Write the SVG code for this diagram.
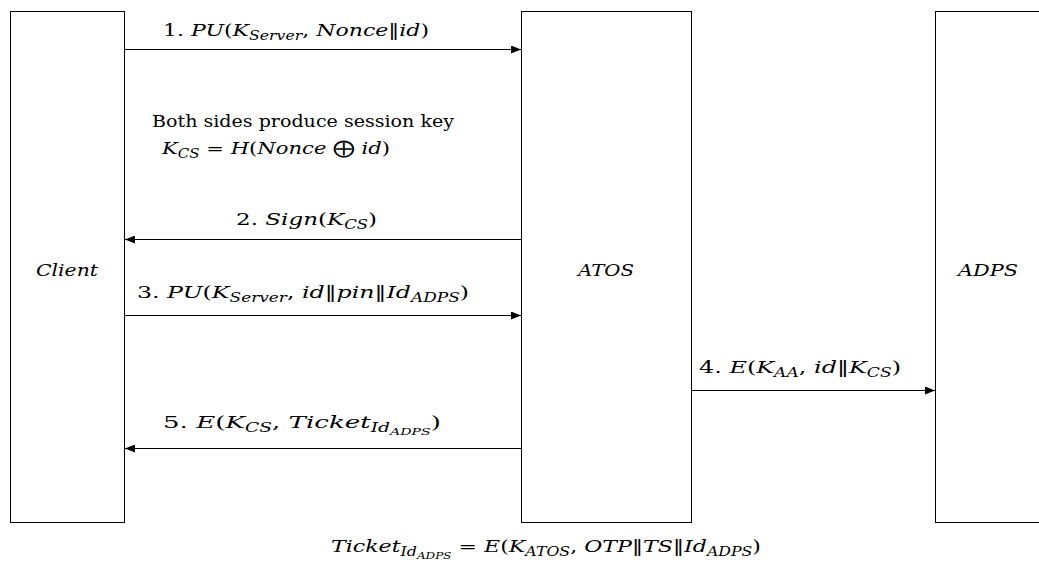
<svg xmlns="http://www.w3.org/2000/svg" width="1039" height="568" viewBox="0 0 1039 568">
  <style>
    .box { fill: #ffffff; stroke: #000000; stroke-width: 1; }
    .msg { stroke: #000000; stroke-width: 1.2; fill: none; }
    text { font-family: "DejaVu Serif", "Liberation Serif", serif; font-size: 17.5px; fill: #000000; }
    .m { font-style: italic; }
    .s { font-style: italic; font-size: 12.5px; }
    .ss { font-style: italic; font-size: 9.5px; }
  </style>
  <defs>
    <marker id="head" viewBox="0 0 10 8" refX="10" refY="4" markerWidth="10" markerHeight="8" markerUnits="userSpaceOnUse" orient="auto">
      <path d="M0,0 L10,4 L0,8 Z" fill="#000000"/>
    </marker>
  </defs>

  <rect width="1039" height="568" fill="#ffffff"/>

  <g id="client">
    <rect class="box" x="10.5" y="11.5" width="114" height="511"/>
    <text class="m" x="67" y="276" text-anchor="middle" textLength="62" lengthAdjust="spacingAndGlyphs">Client</text>
  </g>

  <g id="atos">
    <rect class="box" x="521.5" y="11.5" width="170" height="511"/>
    <text class="m" x="606" y="276" text-anchor="middle" textLength="56" lengthAdjust="spacingAndGlyphs">ATOS</text>
  </g>

  <g id="adps">
    <rect class="box" x="935.5" y="11.5" width="120" height="511"/>
    <text class="m" x="988" y="276" text-anchor="middle" textLength="60" lengthAdjust="spacingAndGlyphs">ADPS</text>
  </g>

  <g id="connectors">
    <line class="msg" x1="125" y1="49.5" x2="521" y2="49.5" marker-end="url(#head)"/>
    <line class="msg" x1="521" y1="239.5" x2="125" y2="239.5" marker-end="url(#head)"/>
    <line class="msg" x1="125" y1="315.5" x2="521" y2="315.5" marker-end="url(#head)"/>
    <line class="msg" x1="692" y1="390.5" x2="935" y2="390.5" marker-end="url(#head)"/>
    <line class="msg" x1="521" y1="448.5" x2="125" y2="448.5" marker-end="url(#head)"/>
  </g>

  <g id="labels">
    <text x="163" y="36" textLength="266" lengthAdjust="spacingAndGlyphs">1. <tspan class="m">PU</tspan>(<tspan class="m">K</tspan><tspan class="s" dy="4">Server</tspan><tspan dy="-4">, </tspan><tspan class="m">Nonce</tspan>‖<tspan class="m">id</tspan>)</text>

    <text x="152" y="127" textLength="302" lengthAdjust="spacingAndGlyphs">Both sides produce session key</text>
    <text x="162" y="154" textLength="228" lengthAdjust="spacingAndGlyphs"><tspan class="m">K</tspan><tspan class="s" dy="4">CS</tspan><tspan dy="-4"> = </tspan><tspan class="m">H</tspan>(<tspan class="m">Nonce</tspan> ⨁ <tspan class="m">id</tspan>)</text>

    <text x="236" y="225" textLength="141" lengthAdjust="spacingAndGlyphs">2. <tspan class="m">Sign</tspan>(<tspan class="m">K</tspan><tspan class="s" dy="4">CS</tspan><tspan dy="-4">)</tspan></text>

    <text x="137" y="298" textLength="332" lengthAdjust="spacingAndGlyphs">3. <tspan class="m">PU</tspan>(<tspan class="m">K</tspan><tspan class="s" dy="4">Server</tspan><tspan dy="-4">, </tspan><tspan class="m">id</tspan>‖<tspan class="m">pin</tspan>‖<tspan class="m">Id</tspan><tspan class="s" dy="4">ADPS</tspan><tspan dy="-4">)</tspan></text>

    <text x="699" y="373" textLength="202" lengthAdjust="spacingAndGlyphs">4. <tspan class="m">E</tspan>(<tspan class="m">K</tspan><tspan class="s" dy="4">AA</tspan><tspan dy="-4">, </tspan><tspan class="m">id</tspan>‖<tspan class="m">K</tspan><tspan class="s" dy="4">CS</tspan><tspan dy="-4">)</tspan></text>

    <text x="163" y="428" textLength="278" lengthAdjust="spacingAndGlyphs">5. <tspan class="m">E</tspan>(<tspan class="m">K</tspan><tspan class="s" dy="4">CS</tspan><tspan dy="-4">, </tspan><tspan class="m">Ticket</tspan><tspan class="s" dy="4">Id</tspan><tspan class="ss" dy="3">ADPS</tspan><tspan dy="-7">)</tspan></text>

    <text x="331" y="552" textLength="430" lengthAdjust="spacingAndGlyphs"><tspan class="m">Ticket</tspan><tspan class="s" dy="4">Id</tspan><tspan class="ss" dy="3">ADPS</tspan><tspan dy="-7"> = </tspan><tspan class="m">E</tspan>(<tspan class="m">K</tspan><tspan class="s" dy="4">ATOS</tspan><tspan dy="-4">, </tspan><tspan class="m">OTP</tspan>‖<tspan class="m">TS</tspan>‖<tspan class="m">Id</tspan><tspan class="s" dy="4">ADPS</tspan><tspan dy="-4">)</tspan></text>
  </g>
</svg>
